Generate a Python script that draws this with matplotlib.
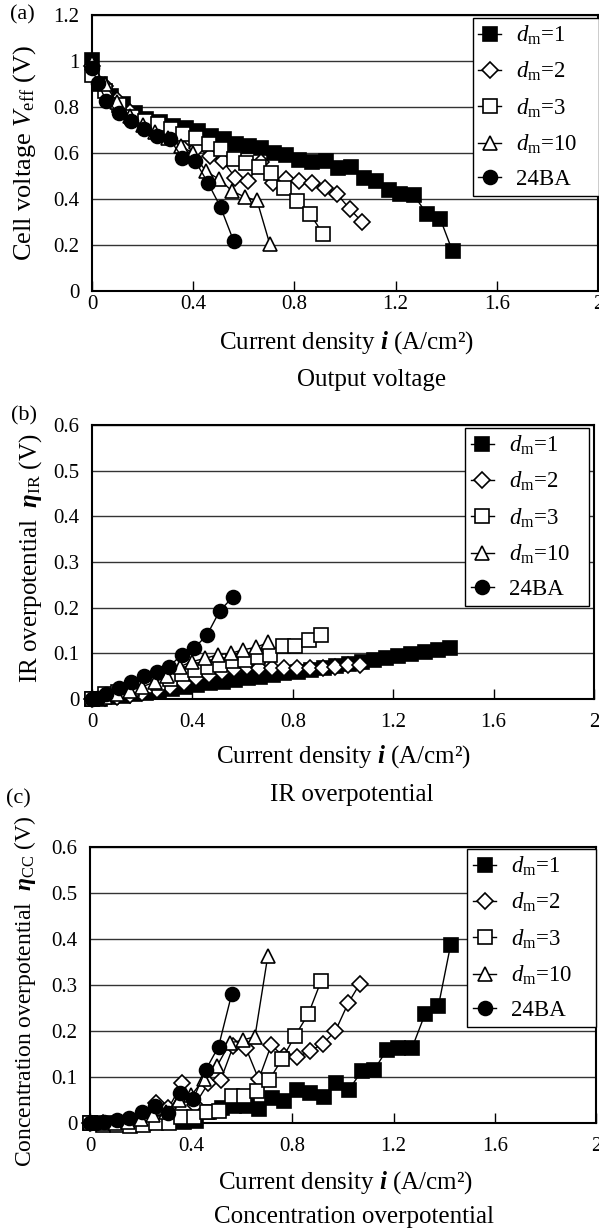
import matplotlib
matplotlib.use('Agg')
import matplotlib.pyplot as plt

plt.rcParams['font.family'] = ['Liberation Serif', 'DejaVu Serif']
plt.rcParams['mathtext.fontset'] = 'custom'
plt.rcParams['mathtext.rm'] = 'Liberation Serif'
plt.rcParams['mathtext.it'] = 'Liberation Serif:italic'
plt.rcParams['mathtext.bf'] = 'Liberation Serif:italic:bold'

# current density (A/cm2) for each series
d1_i = [0.0, 0.03, 0.076, 0.122, 0.168, 0.214, 0.267, 0.319, 0.372, 0.418, 0.47, 0.523, 0.569, 0.622, 0.668,
        0.72, 0.766, 0.819, 0.871, 0.924, 0.974, 1.022, 1.075, 1.124, 1.173, 1.219, 1.272, 1.325, 1.377, 1.425]
d2_i = [0.0, 0.05, 0.1, 0.15, 0.2, 0.26, 0.31, 0.365, 0.415, 0.467, 0.516, 0.567, 0.617, 0.667, 0.716,
        0.766, 0.817, 0.868, 0.92, 0.97, 1.02, 1.067]
d3_i = [0.0, 0.05, 0.105, 0.16, 0.21, 0.262, 0.312, 0.36, 0.41, 0.462, 0.51, 0.561, 0.61, 0.66, 0.709,
        0.76, 0.81, 0.863, 0.913]
d10_i = [0.0, 0.05, 0.1, 0.15, 0.2, 0.25, 0.3, 0.35, 0.4, 0.45, 0.503, 0.553, 0.603, 0.652, 0.703]
ba_i = [0.0, 0.022, 0.057, 0.106, 0.155, 0.207, 0.258, 0.308, 0.357, 0.408, 0.458, 0.508, 0.56]

# (a) cell voltage
d1_v = [1.005, 0.9, 0.848, 0.812, 0.775, 0.748, 0.736, 0.717, 0.707, 0.696, 0.674, 0.659, 0.638, 0.63, 0.623,
        0.6, 0.591, 0.568, 0.562, 0.565, 0.535, 0.54, 0.49, 0.478, 0.437, 0.42, 0.417, 0.333, 0.312, 0.173]
d2_v = [0.98, 0.89, 0.83, 0.78, 0.74, 0.7, 0.675, 0.616, 0.62, 0.587, 0.565, 0.493, 0.478, 0.56, 0.471,
        0.486, 0.478, 0.468, 0.45, 0.42, 0.355, 0.301]
d3_v = [0.94, 0.87, 0.81, 0.756, 0.739, 0.727, 0.706, 0.681, 0.667, 0.638, 0.616, 0.572, 0.558, 0.54, 0.514,
        0.446, 0.391, 0.333, 0.249]
d10_v = [0.99, 0.9, 0.82, 0.76, 0.72, 0.69, 0.665, 0.63, 0.6, 0.52, 0.486, 0.435, 0.409, 0.394, 0.203]
ba_v = [0.97, 0.906, 0.826, 0.775, 0.739, 0.703, 0.674, 0.659, 0.58, 0.565, 0.471, 0.365, 0.217]

# (b) IR overpotential
d1_ir = [0.0, 0.001, 0.004, 0.007, 0.011, 0.014, 0.018, 0.022, 0.026, 0.03, 0.034, 0.038, 0.041, 0.045, 0.048,
         0.052, 0.056, 0.06, 0.064, 0.068, 0.072, 0.076, 0.081, 0.085, 0.09, 0.094, 0.098, 0.103, 0.107, 0.111]
d2_ir = [0.0, 0.002, 0.005, 0.009, 0.014, 0.02, 0.026, 0.035, 0.045, 0.052, 0.06, 0.066, 0.07, 0.068, 0.068,
         0.068, 0.068, 0.068, 0.068, 0.071, 0.074, 0.075]
d3_ir = [0.0, 0.012, 0.016, 0.022, 0.028, 0.034, 0.044, 0.054, 0.064, 0.07, 0.075, 0.083, 0.086, 0.092, 0.097,
         0.117, 0.117, 0.13, 0.14]
d10_ir = [0.0, 0.004, 0.011, 0.018, 0.027, 0.037, 0.05, 0.071, 0.082, 0.089, 0.097, 0.1, 0.108, 0.113, 0.124]
ba_ir = [0.0, 0.003, 0.01, 0.025, 0.037, 0.05, 0.06, 0.071, 0.097, 0.112, 0.14, 0.192, 0.223]

# (c) concentration overpotential
d1_cc = [0.0, 0.0, 0.0, 0.0, 0.0, 0.0, 0.002, 0.004, 0.003, 0.004, 0.025, 0.033, 0.037, 0.036, 0.03,
         0.054, 0.048, 0.071, 0.066, 0.056, 0.088, 0.071, 0.114, 0.116, 0.159, 0.162, 0.162, 0.238, 0.254, 0.386]
d2_cc = [0.0, 0.0, 0.0, 0.002, 0.01, 0.044, 0.032, 0.087, 0.04, 0.086, 0.093, 0.168, 0.162, 0.095, 0.169,
         0.145, 0.143, 0.156, 0.172, 0.2, 0.26, 0.303]
d3_cc = [0.0, -0.004, -0.005, -0.006, -0.005, 0.001, 0.001, 0.012, 0.012, 0.025, 0.027, 0.058, 0.059, 0.07, 0.094,
         0.14, 0.189, 0.237, 0.308]
d10_cc = [0.0, 0.0, 0.0, 0.002, 0.008, 0.018, 0.025, 0.05, 0.06, 0.095, 0.125, 0.174, 0.18, 0.188, 0.364]
ba_cc = [0.0, 0.0, 0.002, 0.007, 0.011, 0.023, 0.036, 0.022, 0.066, 0.052, 0.116, 0.166, 0.28]

labels = ['$d_{\\mathrm{m}}$=1', '$d_{\\mathrm{m}}$=2', '$d_{\\mathrm{m}}$=3', '$d_{\\mathrm{m}}$=10', '24BA']
xs = [d1_i, d2_i, d3_i, d10_i, ba_i]
markers = [('s', 'black', 9.5), ('D', 'white', 8.5), ('s', 'white', 9.5), ('^', 'white', 10.5), ('o', 'black', 10)]

W, H = 599, 1232


def box(l, t, r, b):
    return [l / W, 1 - b / H, (r - l) / W, (b - t) / H]


def pos(x, y):
    return x / W, 1 - y / H


fig = plt.figure(figsize=(W / 100, H / 100), dpi=100)

panels = [
    dict(rect=(92, 15, 598, 291), ys=[d1_v, d2_v, d3_v, d10_v, ba_v], ymax=1.2, ystep=0.2, pad=3,
         leg=(0.752, 0.989, 0.25), ylab='Cell voltage $V_{\\mathrm{eff}}$ (V)', ylabpos=(25, 153), ylabsize=19,
         tag='(a)', tagpos=(22, 15), xlabpos=(346, 343), sub='Output voltage', subpos=(372, 380)),
    dict(rect=(92, 425, 594, 699), ys=[d1_ir, d2_ir, d3_ir, d10_ir, ba_ir], ymax=0.6, ystep=0.1, pad=10,
         leg=(0.743, 0.989, 0.247), ylab='IR overpotential  $\\mathbf{\\eta}_{\\mathrm{IR}}$ (V)',
         ylabpos=(31, 558), ylabsize=18,
         tag='(b)', tagpos=(24, 416), xlabpos=(343, 757), sub='IR overpotential', subpos=(352, 795)),
    dict(rect=(90, 847, 596, 1123), ys=[d1_cc, d2_cc, d3_cc, d10_cc, ba_cc], ymax=0.6, ystep=0.1, pad=10,
         leg=(0.746, 0.993, 0.254), ylab='Concentration overpotential  $\\mathbf{\\eta}_{\\mathrm{CC}}$ (V)',
         ylabpos=(25, 991), ylabsize=17,
         tag='(c)', tagpos=(18, 799), xlabpos=(345, 1183), sub='Concentration overpotential', subpos=(354, 1217)),
]

for p in panels:
    ax = fig.add_axes(box(*p['rect']))
    for x, y, lab, (m, fc, ms) in zip(xs, p['ys'], labels, markers):
        ax.plot(x, y, color='black', lw=1, marker=m, ms=ms, mfc=fc, mec='black', mew=1.2,
                label=lab, clip_on=False, zorder=3)
    ax.set_xlim(0, 2)
    ax.set_ylim(0, p['ymax'])
    ax.set_xticks([0, 0.4, 0.8, 1.2, 1.6, 2])
    ax.set_xticklabels(['0', '0.4', '0.8', '1.2', '1.6', '2'])
    n = int(round(p['ymax'] / p['ystep']))
    yt = [round(k * p['ystep'], 2) for k in range(n + 1)]
    ax.set_yticks(yt)
    ax.set_yticklabels(['%g' % v for v in yt])
    ax.yaxis.grid(True, color='#333333', lw=1)
    ax.set_axisbelow(True)
    ax.tick_params(axis='x', direction='in', length=7, width=1, pad=p['pad'], labelsize=15)
    ax.tick_params(axis='y', length=0, pad=9, labelsize=15)
    for s in ax.spines.values():
        s.set_linewidth(1.5)
    lx, ly, lw = p['leg']
    leg = ax.legend(loc='upper left', bbox_to_anchor=(lx, ly, lw, 0.0), mode='expand', fontsize=16.5,
                    frameon=True, fancybox=False, edgecolor='black', framealpha=1, handlelength=1.0,
                    handletextpad=0.65, labelspacing=0.57, borderpad=0.25, borderaxespad=0.0)
    leg.get_frame().set_linewidth(1)
    leg.set_zorder(5)
    fig.text(*pos(*p['ylabpos']), p['ylab'], rotation=90, ha='center', va='center', fontsize=p['ylabsize'])
    fig.text(*pos(*p['tagpos']), p['tag'], ha='center', va='center', fontsize=16)
    fig.text(*pos(*p['xlabpos']), 'Current density $\\mathbf{i}$ (A/cm²)', ha='center', va='center', fontsize=18)
    fig.text(*pos(*p['subpos']), p['sub'], ha='center', va='center', fontsize=18)

fig.savefig('out.png', dpi=100)
